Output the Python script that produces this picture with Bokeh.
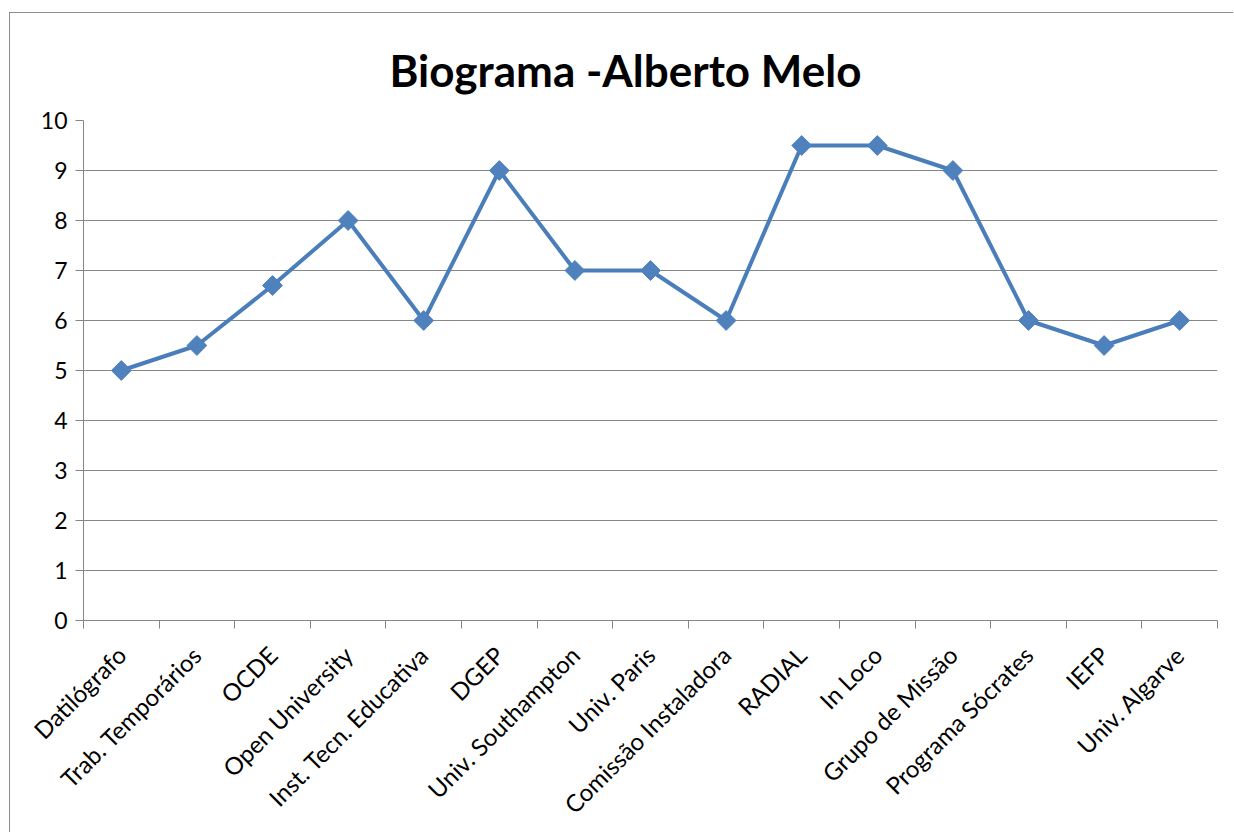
import math
from bokeh.plotting import figure
from bokeh.models import (Range1d, LinearAxis, FixedTicker, Title, ColumnDataSource)
from bokeh.embed import file_html
from bokeh.resources import INLINE

categories = ["Datilógrafo", "Trab. Temporários", "OCDE", "Open University",
              "Inst. Tecn. Educativa", "DGEP", "Univ. Southampton", "Univ. Paris",
              "Comissão Instaladora", "RADIAL", "In Loco", "Grupo de Missão",
              "Programa Sócrates", "IEFP", "Univ. Algarve"]
values = [5, 5.5, 6.7, 8, 6, 9, 7, 7, 6, 9.5, 9.5, 9, 6, 5.5, 6]
y_ticks = list(range(0, 11))
title_text = "Biograma -Alberto Melo"

FONT = "Lato"
GRID = "#868686"
LINE = "#4A7EBB"
MARK = "#4F81BD"

n = len(categories)
centers = [i + 0.5 for i in range(n)]      # category slot centres
edges = list(range(n + 1))                   # category slot boundaries

src = ColumnDataSource(dict(x=centers, cat=categories, val=values))

p = figure(width=1224, height=820, output_backend="svg", toolbar_location=None,
           x_range=Range1d(0, n), y_range=Range1d(0, 10), x_axis_location=None,
           min_border_left=73, min_border_right=17, min_border_top=107,
           min_border_bottom=213)
p.styles = {"margin-left": "9px", "margin-top": "12px",
            "border-left": "1px solid #8c8c8c", "border-top": "1px solid #8c8c8c",
            "border-right": "none", "border-bottom": "none"}
p.outline_line_color = None
p.background_fill_color = "white"
p.border_fill_color = "white"

p.title = Title(text=title_text, align="left", text_font=FONT,
                text_font_size="44px", text_font_style="bold", text_color="black",
                offset=306, standoff=50)

# y axis
yax = p.yaxis[0]
yax.ticker = FixedTicker(ticks=y_ticks)
yax.axis_line_color = GRID
yax.major_tick_line_color = GRID
yax.major_tick_out = 8
yax.major_tick_in = 0
yax.minor_tick_line_color = None
yax.major_label_text_font = FONT
yax.major_label_text_font_size = "23px"
yax.major_label_text_color = "black"
yax.major_label_standoff = 8

p.ygrid.ticker = FixedTicker(ticks=y_ticks)
p.ygrid.grid_line_color = GRID
p.ygrid.grid_line_width = 1
p.xgrid.grid_line_color = None

# x axis: names at slot centres, tick marks at slot boundaries
xax = LinearAxis(ticker=FixedTicker(ticks=centers, minor_ticks=edges),
                 major_label_overrides={c: name for c, name in zip(centers, categories)},
                 axis_line_color=GRID, major_tick_line_color=None,
                 major_tick_out=0, major_tick_in=0,
                 minor_tick_line_color=GRID, minor_tick_out=8, minor_tick_in=0,
                 major_label_orientation=math.pi / 4,
                 major_label_text_font=FONT,
                 major_label_text_font_size="24px",
                 major_label_text_color="black",
                 major_label_standoff=22)
p.add_layout(xax, "below")

p.line(x="x", y="val", source=src, line_width=4, line_color=LINE)
p.scatter(x="x", y="val", source=src, marker="square", angle=math.pi / 4,
          size=14, fill_color=MARK, line_color=MARK)

open("out.html", "w").write(file_html(p, INLINE))
